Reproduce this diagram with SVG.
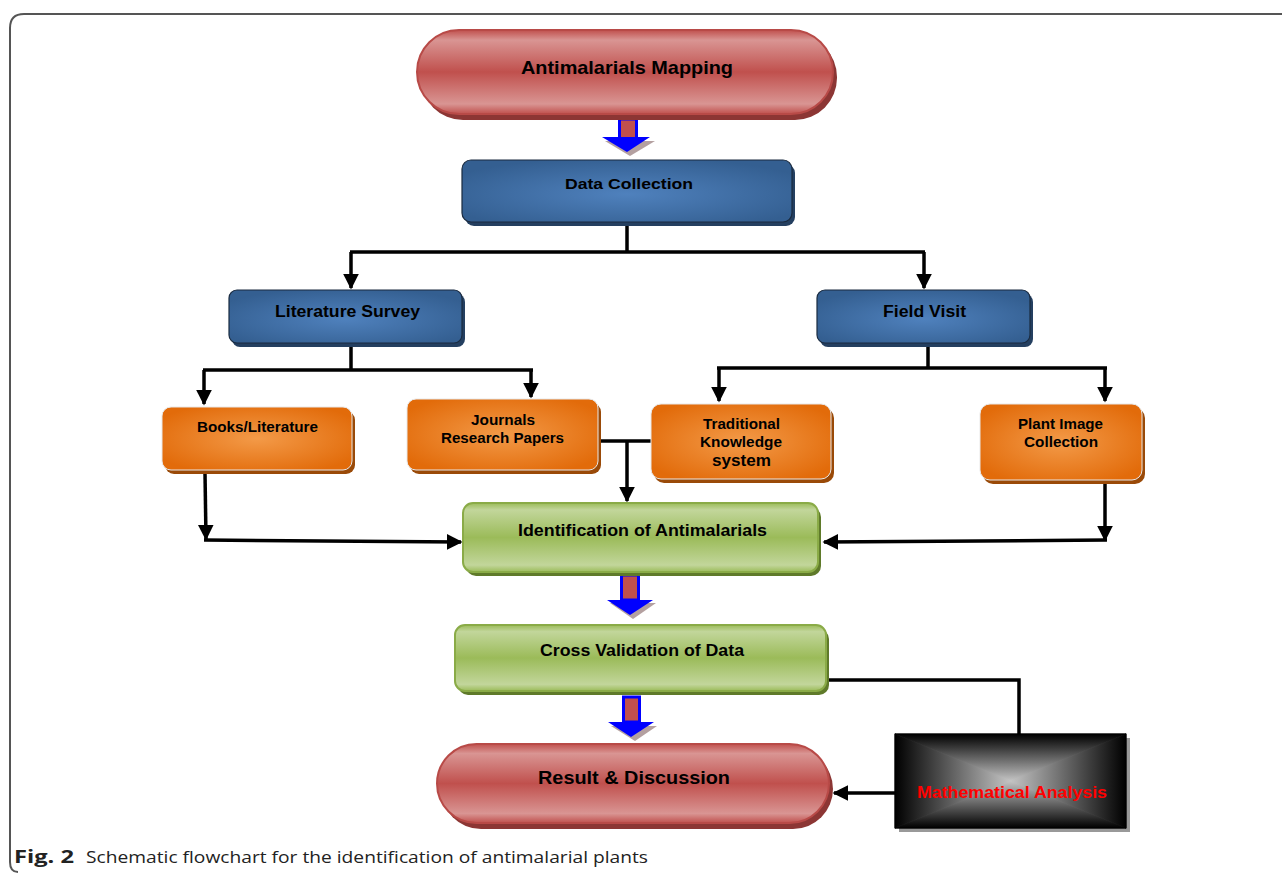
<svg xmlns="http://www.w3.org/2000/svg" width="1282" height="874" viewBox="0 0 1282 874">
<defs>
<linearGradient id="gRed" x1="0" y1="0" x2="0" y2="1">
<stop offset="0" stop-color="#c0504d"/><stop offset="0.12" stop-color="#d99593"/><stop offset="0.5" stop-color="#c0504d"/><stop offset="0.88" stop-color="#d99593"/><stop offset="1" stop-color="#c0504d"/>
</linearGradient>
<radialGradient id="gBlue" cx="0.5" cy="0.55" r="0.6">
<stop offset="0" stop-color="#4f81bd"/><stop offset="1" stop-color="#345f91"/>
</radialGradient>
<radialGradient id="gOrange" cx="0.5" cy="0.5" r="0.6">
<stop offset="0" stop-color="#f39a48"/><stop offset="1" stop-color="#e26b0a"/>
</radialGradient>
<linearGradient id="gGreen" x1="0" y1="0" x2="0" y2="1">
<stop offset="0" stop-color="#9bbb59"/><stop offset="0.1" stop-color="#c2d69b"/><stop offset="0.5" stop-color="#9bbb59"/><stop offset="0.9" stop-color="#c2d69b"/><stop offset="1" stop-color="#9bbb59"/>
</linearGradient>
<linearGradient id="mT" gradientUnits="userSpaceOnUse" x1="0" y1="734" x2="0" y2="781"><stop offset="0" stop-color="#000"/><stop offset="1" stop-color="#c4c4c4"/></linearGradient>
<linearGradient id="mB" gradientUnits="userSpaceOnUse" x1="0" y1="828" x2="0" y2="781"><stop offset="0" stop-color="#000"/><stop offset="1" stop-color="#c4c4c4"/></linearGradient>
<linearGradient id="mL" gradientUnits="userSpaceOnUse" x1="895" y1="0" x2="1010.5" y2="0"><stop offset="0" stop-color="#000"/><stop offset="1" stop-color="#c4c4c4"/></linearGradient>
<linearGradient id="mR" gradientUnits="userSpaceOnUse" x1="1126" y1="0" x2="1010.5" y2="0"><stop offset="0" stop-color="#000"/><stop offset="1" stop-color="#c4c4c4"/></linearGradient>
<marker id="ah" viewBox="0 0 10 10" refX="9" refY="5" markerWidth="4.5" markerHeight="4.5" orient="auto" markerUnits="strokeWidth">
<path d="M0,0 L10,5 L0,10 z" fill="#000"/>
</marker>
</defs>
<style>
.t{font-family:"Liberation Sans",Arial,sans-serif;font-weight:bold;fill:#000;text-anchor:middle}
.c{fill:none;stroke:#000;stroke-width:3.5}
.ca{fill:none;stroke:#000;stroke-width:3.5;marker-end:url(#ah)}
.blue{fill:url(#gBlue);stroke:#1a2b40;stroke-width:1.2}
.bsh{fill:#243f60}
.org{fill:url(#gOrange);stroke:#e8e8e8;stroke-width:1}
.osh{fill:#9a4a08}
.grn{fill:url(#gGreen);stroke:#8aab47;stroke-width:2}
.gsh{fill:#5f7a2a}
.red{fill:url(#gRed);stroke:#b84a47;stroke-width:2}
.rsh{fill:#8c3634}
.bashaft{fill:#c0504d;stroke:#0000ff;stroke-width:3}
.bahead{fill:#0000ff}
.bash{fill:#b4a0a0}
</style>
<rect width="1282" height="874" fill="#fff"/>
<path d="M1282,14 L24,14 Q10,14 10,28 L10,862 Q10,872 18,872" fill="none" stroke="#555" stroke-width="2"/>

<g id="connectors">
<path class="c" d="M627,226 L627,252 M350,252 L925,252"/>
<path class="ca" d="M351,252 L351,288"/>
<path class="ca" d="M924,252 L924,288"/>
<path class="c" d="M351,347 L351,370 M203,370 L533,370 M928,347 L928,368 M717,368 L1107,368"/>
<path class="ca" d="M204,370 L204,404"/>
<path class="ca" d="M531,370 L531,397"/>
<path class="ca" d="M719,368 L719,401"/>
<path class="ca" d="M1105,368 L1105,401"/>
<path class="c" d="M600,441 L651,441"/>
<path class="ca" d="M627,441 L627,501"/>
<path class="ca" d="M205,473 L206,539"/>
<path class="ca" d="M204,540 L461,542"/>
<path class="ca" d="M1105,483 L1105,540"/>
<path class="ca" d="M1107,540 L824,542"/>
<path class="c" d="M828,680 L1019,680 L1019,735"/>
<path class="ca" d="M895,793 L834,793"/>
</g>

<g id="blockarrows">
<path class="bash" d="M605,141 L630,156 L655,141 z"/>
<rect class="bashaft" x="619.5" y="119" width="17" height="21"/>
<path class="bahead" d="M602,137 L650,137 L627,152 z"/>
<path class="bash" d="M610,603 L633,619 L656,603 z"/>
<rect class="bashaft" x="621.5" y="575" width="17" height="25"/>
<path class="bahead" d="M607,600 L653,600 L630,615 z"/>
<path class="bash" d="M611,726 L635,741 L657,726 z"/>
<rect class="bashaft" x="623.5" y="697" width="16" height="25"/>
<path class="bahead" d="M608,722 L654,722 L631,737 z"/>
</g>

<g id="n-mapping">
<rect class="rsh" x="421" y="35" width="416" height="85" rx="42"/>
<rect class="red" x="417" y="30" width="416" height="84" rx="42"/>
<text class="t" x="627" y="74" font-size="19" textLength="212" lengthAdjust="spacingAndGlyphs">Antimalarials Mapping</text>
</g>

<g id="n-data">
<rect class="bsh" x="465" y="164" width="330" height="62" rx="9"/>
<rect class="blue" x="462" y="160" width="330" height="62" rx="9"/>
<text class="t" x="629" y="189" font-size="15" textLength="128" lengthAdjust="spacingAndGlyphs">Data Collection</text>
</g>

<g id="n-lit">
<rect class="bsh" x="232" y="294" width="233" height="53" rx="8"/>
<rect class="blue" x="229" y="290" width="233" height="53" rx="8"/>
<text class="t" x="347.5" y="317" font-size="16" textLength="145" lengthAdjust="spacingAndGlyphs">Literature Survey</text>
</g>

<g id="n-field">
<rect class="bsh" x="820" y="294" width="213" height="53" rx="8"/>
<rect class="blue" x="817" y="290" width="213" height="53" rx="8"/>
<text class="t" x="924.5" y="317" font-size="16" textLength="83" lengthAdjust="spacingAndGlyphs">Field Visit</text>
</g>

<g id="n-books">
<rect class="osh" x="165" y="411" width="190" height="63" rx="9"/>
<rect class="org" x="162" y="407" width="190" height="63" rx="9"/>
<text class="t" x="257.5" y="432" font-size="14" textLength="121" lengthAdjust="spacingAndGlyphs">Books/Literature</text>
</g>

<g id="n-journals">
<rect class="osh" x="410" y="403" width="191" height="71" rx="9"/>
<rect class="org" x="407" y="399" width="191" height="71" rx="9"/>
<text class="t" x="503" y="425" font-size="14" textLength="64" lengthAdjust="spacingAndGlyphs">Journals</text>
<text class="t" x="502.5" y="443" font-size="14" textLength="123" lengthAdjust="spacingAndGlyphs">Research Papers</text>
</g>

<g id="n-traditional">
<rect class="osh" x="654" y="408" width="180" height="75" rx="10"/>
<rect class="org" x="651" y="404" width="180" height="75" rx="10"/>
<text class="t" x="741.5" y="429" font-size="14" textLength="77" lengthAdjust="spacingAndGlyphs">Traditional</text>
<text class="t" x="741" y="447" font-size="14" textLength="82" lengthAdjust="spacingAndGlyphs">Knowledge</text>
<text class="t" x="741.5" y="466" font-size="16" textLength="59" lengthAdjust="spacingAndGlyphs">system</text>
</g>

<g id="n-plant">
<rect class="osh" x="983" y="408" width="162" height="76" rx="10"/>
<rect class="org" x="980" y="404" width="162" height="76" rx="10"/>
<text class="t" x="1060.5" y="429" font-size="14" textLength="85" lengthAdjust="spacingAndGlyphs">Plant Image</text>
<text class="t" x="1061" y="447" font-size="14" textLength="74" lengthAdjust="spacingAndGlyphs">Collection</text>
</g>

<g id="n-ident">
<rect class="gsh" x="466" y="507" width="355" height="69" rx="10"/>
<rect class="grn" x="463" y="503" width="355" height="69" rx="10"/>
<text class="t" x="642.5" y="536" font-size="16" textLength="249" lengthAdjust="spacingAndGlyphs">Identification of Antimalarials</text>
</g>

<g id="n-cross">
<rect class="gsh" x="458" y="629" width="371" height="66" rx="10"/>
<rect class="grn" x="455" y="625" width="371" height="66" rx="10"/>
<text class="t" x="642" y="656" font-size="16" textLength="204" lengthAdjust="spacingAndGlyphs">Cross Validation of Data</text>
</g>

<g id="n-result">
<rect class="rsh" x="441" y="749" width="392" height="80" rx="40"/>
<rect class="red" x="437" y="744" width="392" height="79" rx="39.5"/>
<text class="t" x="634" y="784" font-size="18" textLength="192" lengthAdjust="spacingAndGlyphs">Result &amp; Discussion</text>
</g>

<g id="n-math">
<rect x="899" y="738" width="231" height="94" fill="#999"/>
<path d="M895,734 L1126,734 L1010.5,781 z" fill="url(#mT)" stroke="url(#mT)" stroke-width="0.8"/>
<path d="M895,828 L1126,828 L1010.5,781 z" fill="url(#mB)" stroke="url(#mB)" stroke-width="0.8"/>
<path d="M895,734 L895,828 L1010.5,781 z" fill="url(#mL)" stroke="url(#mL)" stroke-width="0.8"/>
<path d="M1126,734 L1126,828 L1010.5,781 z" fill="url(#mR)" stroke="url(#mR)" stroke-width="0.8"/>
<rect x="895" y="734" width="231" height="94" fill="none" stroke="#000" stroke-width="1"/>
<text class="t" x="1012" y="798" font-size="16" style="fill:#ff0000" textLength="190" lengthAdjust="spacingAndGlyphs">Mathematical Analysis</text>
</g>

<text x="14" y="863" font-family="'Open Sans','Liberation Sans',sans-serif" font-size="17" fill="#222"><tspan font-weight="bold" textLength="60" lengthAdjust="spacingAndGlyphs">Fig. 2</tspan><tspan x="86" textLength="562" lengthAdjust="spacingAndGlyphs">Schematic flowchart for the identification of antimalarial plants</tspan></text>
</svg>
